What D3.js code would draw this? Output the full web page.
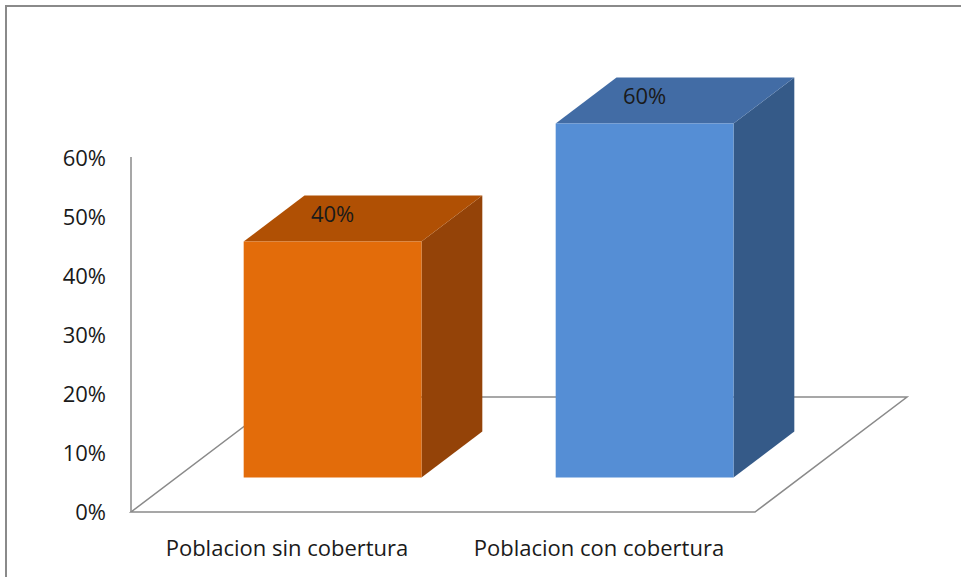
<!DOCTYPE html>
<html>
<head>
<meta charset="utf-8">
<script src="https://cdnjs.cloudflare.com/ajax/libs/d3/7.8.5/d3.min.js"></script>
<style>
  body { margin: 0; background: #fff; }
  svg { display: block; }
  text { font-family: "Open Sans", "DejaVu Sans", sans-serif; fill: #1a1a1a; }
</style>
</head>
<body>
<svg id="chart" width="961" height="577"></svg>
<script>
var categories = ["Poblacion sin cobertura", "Poblacion con cobertura"];
var values = [0.40, 0.60];
var valueLabels = ["40%", "60%"];
var tickValues = [0, 0.1, 0.2, 0.3, 0.4, 0.5, 0.6];
var faceColors = ["#e36c0a", "#558ed5"];
var topColors = ["#b05004", "#426ca5"];
var sideColors = ["#944308", "#355a88"];

var svg = d3.select("#chart");

// outer frame, cut off at right and bottom like the picture
svg.append("rect")
  .attr("x", 6).attr("y", 6)
  .attr("width", 1000).attr("height", 700)
  .attr("fill", "none")
  .attr("stroke", "#8a8a8a")
  .attr("stroke-width", 2);

var x0 = 131, x1 = 755, floorY = 512;
var depthX = 152, depthY = 115; //floor depth offset
var barFront = 0.3, barBack = 0.7; //bar position inside the floor depth

var x = d3.scaleBand()
  .domain(categories)
  .range([x0, x1])
  .paddingInner(0.43)
  .paddingOuter(0.215);

var y = d3.scaleLinear()
  .domain([0, 0.6])
  .range([floorY, 158]);

//Floor (parallelogram)
var floor = [[x0, floorY], [x1, floorY], [x1 + depthX, floorY - depthY], [x0 + depthX, floorY - depthY]];
svg.append("path")
  .attr("d", d3.line()(floor) + "Z")
  .attr("fill", "none")
  .attr("stroke", "#8a8a8a")
  .attr("stroke-width", 1.5);

//Vertical axis line
svg.append("line")
  .attr("x1", x0).attr("x2", x0)
  .attr("y1", y(0.6) - 1).attr("y2", floorY)
  .attr("stroke", "#8a8a8a")
  .attr("stroke-width", 1.5);

//Tick labels
svg.selectAll(".tick-label")
  .data(tickValues)
  .enter().append("text")
  .attr("class", "tick-label")
  .attr("x", 106)
  .attr("y", function(d) { return y(d); })
  .attr("dy", "0.35em")
  .attr("text-anchor", "end")
  .style("font-size", "22px")
  .text(d3.format(".0%"));

//Bars: side, top, front face
var offF = [depthX * barFront, -depthY * barFront];
var offB = [depthX * barBack, -depthY * barBack];

var bars = svg.selectAll(".bar")
  .data(values)
  .enter().append("g")
  .attr("class", "bar");

bars.each(function(v, i) {
  var g = d3.select(this);
  var left = x(categories[i]) + offF[0];
  var right = left + x.bandwidth();
  var bottom = y(0) + offF[1];
  var top = y(v) + offF[1];
  var dx = offB[0] - offF[0];
  var dy = offB[1] - offF[1];

  g.append("path")
    .attr("d", d3.line()([[right, bottom], [right + dx, bottom + dy], [right + dx, top + dy], [right, top]]) + "Z")
    .attr("fill", sideColors[i]);
  g.append("path")
    .attr("d", d3.line()([[left, top], [right, top], [right + dx, top + dy], [left + dx, top + dy]]) + "Z")
    .attr("fill", topColors[i]);
  g.append("rect")
    .attr("x", left).attr("y", top)
    .attr("width", right - left).attr("height", bottom - top)
    .attr("fill", faceColors[i]);
  g.append("text")
    .attr("x", (left + right) / 2)
    .attr("y", top - 27)
    .attr("dy", "0.35em")
    .attr("text-anchor", "middle")
    .style("font-size", "22px")
    .text(valueLabels[i]);
});

//Category labels
svg.selectAll(".cat-label")
  .data(categories)
  .enter().append("text")
  .attr("class", "cat-label")
  .attr("x", function(d) { return x(d) + x.bandwidth() / 2; })
  .attr("y", 548)
  .attr("dy", "0.35em")
  .attr("text-anchor", "middle")
  .style("font-size", "22px")
  .text(function(d) { return d; });
</script>
</body>
</html>
